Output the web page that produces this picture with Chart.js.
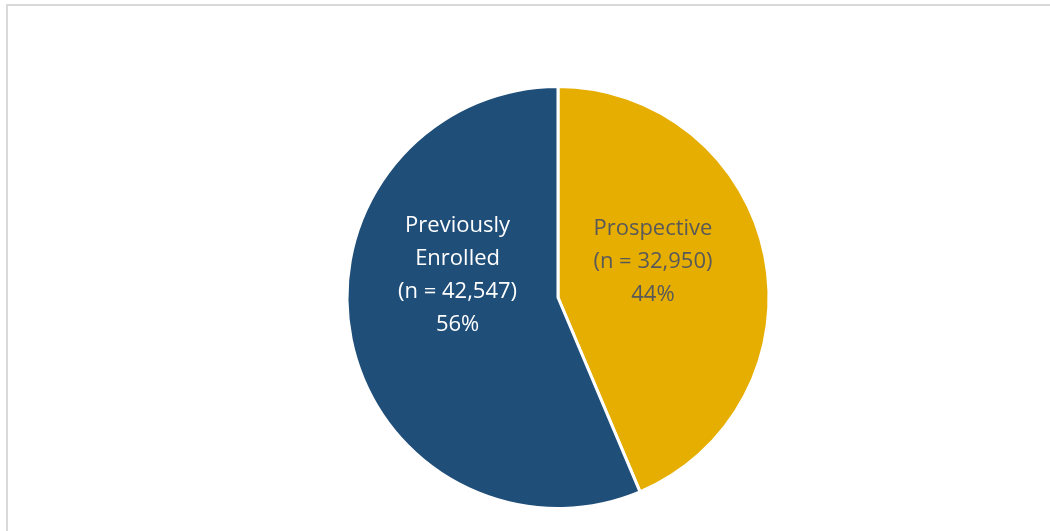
<!DOCTYPE html>
<html>
<head>
<meta charset="utf-8">
<script src="https://cdn.jsdelivr.net/npm/chart.js@4"></script>
<style>
  html, body { margin: 0; padding: 0; background: #fff; }
  #wrap { position: relative; width: 1050px; height: 531px; }
  #frame { position: absolute; left: 6px; top: 4px; right: 0; bottom: 0;
           border-top: 2px solid #d9d9d9; border-left: 2px solid #d9d9d9; }
  canvas { position: absolute; left: 0; top: 0; }
</style>
</head>
<body>
<div id="wrap">
  <div id="frame"></div>
  <canvas id="pie" width="1050" height="531"></canvas>
</div>
<script>
// data
const categories = ['Prospective', 'Previously Enrolled'];
const counts = [32950, 42547];
const percents = ['44%', '56%'];
const colors = ['#E6AE00', '#1F4E79'];
const labelColors = ['#595959', '#ffffff'];
// label anchor as fraction of radius from centre (x, y)
const labelAnchors = [[0.45, -0.17], [-0.476, -0.107]];

// draw the data labels inside the slices
const sliceLabels = {
  id: 'sliceLabels',
  afterDatasetsDraw(chart) {
    const ctx = chart.ctx;
    const meta = chart.getDatasetMeta(0);
    ctx.save();
    ctx.font = '22px "Open Sans"';
    ctx.textAlign = 'center';
    ctx.textBaseline = 'middle';
    meta.data.forEach((arc, i) => {
      const r = arc.outerRadius;
      const cx = arc.x + labelAnchors[i][0] * r;
      const cy = arc.y + labelAnchors[i][1] * r;
      const name = categories[i].split(' ');
      const lines = [...name, '(n = ' + counts[i].toLocaleString('en-US') + ')', percents[i]];
      const lh = 33;
      const top = cy - (lines.length - 1) * lh / 2;
      ctx.fillStyle = labelColors[i];
      lines.forEach((t, k) => ctx.fillText(t, cx, top + k * lh));
    });
    ctx.restore();
  }
};

new Chart(document.getElementById('pie'), {
  type: 'pie',
  data: {
    labels: categories,
    datasets: [{
      data: counts,
      backgroundColor: colors,
      borderColor: '#ffffff',
      borderWidth: 3
    }]
  },
  options: {
    responsive: false,
    animation: false,
    layout: { padding: { top: 85, bottom: 21, left: 66, right: 0 } },
    plugins: {
      legend: { display: false },
      tooltip: { enabled: false }
    }
  },
  plugins: [sliceLabels]
});
</script>
</body>
</html>
